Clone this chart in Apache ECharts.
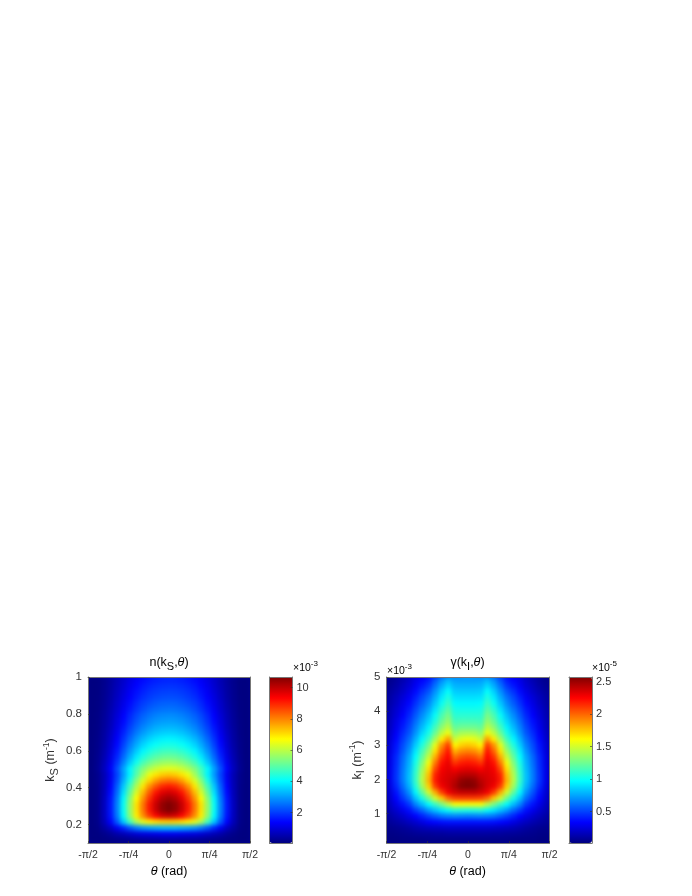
<!DOCTYPE html>
<html><head><meta charset="utf-8">
<style>html,body{margin:0;padding:0;background:#fff}#c{width:692px;height:896px}
canvas[data-zr-dom-id="zr_0"]{filter:blur(2.2px)}</style>
<script src="https://cdn.jsdelivr.net/npm/echarts@6/dist/echarts.min.js"></script>
</head><body><div id="c"></div>
<script>
// half-profile columns, theta = 0 .. 90 deg; the plots are mirror-symmetric about theta = 0
const thetaHalf = [0,7.5,15,22.5,30,37.5,45,52.5,60,67.5,75,82.5,90];
// n(kS,theta) x 1e-3, rows from kS = 1 (top) down to kS = 0.1
const nRows = [
[1.75,1.73,1.68,1.59,1.47,1.30,1.09,.84,.60,.37,.19,.07,.06],
[1.9,1.88,1.82,1.73,1.60,1.41,1.18,.91,.65,.40,.21,.08,.06],
[2.05,2.03,1.97,1.87,1.72,1.52,1.27,.98,.70,.43,.23,.08,.06],
[2.2,2.18,2.11,2.0,1.85,1.63,1.36,1.06,.75,.46,.24,.09,.06],
[2.4,2.38,2.3,2.18,2.02,1.78,1.49,1.15,.82,.50,.26,.10,.06],
[2.6,2.57,2.5,2.37,2.18,1.92,1.61,1.25,.88,.55,.29,.10,.06],
[2.85,2.82,2.74,2.59,2.39,2.11,1.77,1.37,.97,.60,.31,.11,.06],
[3.05,3.02,2.93,2.78,2.56,2.26,1.89,1.46,1.04,.64,.34,.12,.06],
[3.3,3.27,3.17,3.0,2.77,2.44,2.05,1.58,1.12,.69,.36,.13,.06],
[3.6,3.56,3.46,3.28,3.02,2.66,2.23,1.73,1.22,.76,.40,.14,.06],
[3.95,3.91,3.79,3.59,3.32,2.92,2.45,1.9,1.34,.83,.43,.16,.06],
[4.3,4.26,4.13,3.91,3.61,3.18,2.67,2.06,1.46,.9,.47,.17,.06],
[4.7,4.65,4.51,4.28,3.95,3.48,2.91,2.26,1.6,.99,.52,.19,.06],
[5.15,5.1,4.94,4.69,4.33,3.81,3.19,2.47,1.75,1.08,.57,.21,.06],
[5.7,5.64,5.47,5.19,4.79,4.22,3.53,2.74,1.94,1.2,.63,.23,.06],
[6.4,6.34,6.14,5.82,5.38,4.74,3.97,3.07,2.18,1.34,.7,.26,.06],
[7.3,7.2,6.95,6.5,5.75,4.9,3.95,3.0,2.05,1.2,.6,.2,.06],
[8.2,8.08,7.7,7.1,6.3,5.4,4.3,3.2,2.15,1.25,.6,.2,.06],
[9.1,8.95,8.5,7.85,6.95,5.85,4.75,3.5,2.35,1.35,.62,.18,.06],
[9.8,9.63,9.15,8.4,7.4,6.3,5.1,3.75,2.5,1.45,.65,.18,.06],
[10.3,10.1,9.6,8.8,7.8,6.7,5.45,4.0,2.65,1.55,.69,.18,.06],
[10.68,10.45,9.9,9.1,8.1,6.95,5.6,4.13,2.75,1.6,.71,.18,.06],
[10.68,10.45,9.9,9.1,8.1,6.95,5.6,4.13,2.75,1.6,.71,.18,.06],
[9.9,9.75,9.3,8.7,7.85,6.85,5.5,4.0,2.65,1.55,.7,.18,.06],
[7.2,7.15,7.0,6.8,6.4,5.75,4.7,3.45,2.3,1.35,.62,.16,.06],
[3.3,3.3,3.2,3.1,2.95,2.65,2.25,1.75,1.25,.75,.4,.12,.06],
[1.2,1.2,1.15,1.1,1.05,.95,.8,.65,.5,.32,.18,.08,.06],
[.35,.35,.33,.32,.3,.27,.23,.19,.15,.11,.08,.06,.06]
];
// gamma(kI,theta) x 1e-5, rows from kI = 5e-3 (top) down to kI = 0.14e-3
const gRows = [
[.72,.72,.73,.78,.68,.54,.40,.34,.28,.20,.14,.09,.05],
[.78,.78,.79,.88,.77,.62,.47,.39,.31,.23,.17,.11,.07],
[.84,.84,.85,.98,.86,.70,.55,.46,.36,.27,.20,.14,.09],
[.90,.90,.91,1.05,.93,.77,.62,.52,.41,.31,.24,.17,.11],
[.96,.96,.97,1.12,1.0,.84,.68,.57,.46,.35,.27,.19,.12],
[1.02,1.02,1.03,1.2,1.08,.91,.75,.63,.51,.39,.30,.22,.14],
[1.08,1.08,1.08,1.28,1.16,.99,.82,.69,.56,.43,.33,.24,.15],
[1.15,1.15,1.14,1.35,1.23,1.05,.88,.75,.61,.47,.37,.27,.17],
[1.25,1.25,1.22,1.45,1.33,1.14,.95,.81,.66,.51,.40,.29,.18],
[1.4,1.39,1.33,1.58,1.45,1.24,1.03,.88,.71,.55,.44,.32,.20],
[1.58,1.55,1.47,1.85,1.65,1.38,1.13,.96,.78,.60,.48,.35,.22],
[1.75,1.72,1.63,2.1,1.88,1.55,1.25,1.05,.85,.65,.52,.38,.24],
[1.92,1.89,1.8,2.2,2.0,1.68,1.36,1.14,.92,.70,.55,.40,.25],
[2.08,2.05,1.97,2.25,2.12,1.81,1.47,1.22,.98,.75,.59,.43,.27],
[2.2,2.18,2.12,2.3,2.21,1.95,1.58,1.3,1.03,.78,.61,.44,.27],
[2.32,2.3,2.26,2.32,2.27,2.07,1.68,1.37,1.07,.80,.63,.45,.28],
[2.43,2.42,2.36,2.34,2.3,2.17,1.76,1.42,1.1,.82,.64,.46,.28],
[2.55,2.52,2.42,2.36,2.32,2.19,1.8,1.44,1.11,.82,.64,.46,.28],
[2.57,2.55,2.45,2.35,2.28,2.1,1.72,1.38,1.06,.78,.60,.43,.26],
[2.4,2.4,2.36,2.28,2.1,1.82,1.5,1.22,.96,.70,.54,.38,.23],
[2.1,2.1,2.08,1.98,1.75,1.5,1.25,1.03,.83,.60,.47,.34,.21],
[1.6,1.6,1.6,1.45,1.28,1.12,.98,.82,.67,.48,.38,.28,.18],
[1.05,1.06,1.07,1.0,.92,.83,.73,.6,.49,.37,.29,.22,.15],
[.65,.66,.67,.66,.63,.57,.5,.42,.34,.27,.21,.16,.11],
[.38,.38,.38,.38,.37,.35,.32,.27,.22,.18,.14,.11,.08],
[.2,.2,.2,.2,.19,.18,.17,.15,.13,.10,.08,.06,.05],
[.1,.1,.1,.1,.09,.09,.08,.08,.07,.06,.05,.04,.03],
[.04,.04,.04,.04,.04,.04,.04,.03,.03,.03,.03,.02,.02]
];
const thetaTicks = [-90,-45,0,45,90];
const thetaLabels = ['-π/2','-π/4','0','π/4','π/2'];
const kSTicks = [0.2,0.4,0.6,0.8,1];
const kITicks = [1,2,3,4,5];
const kSRange = [0.1,1];
const kIRange = [0.14,5];
const nBarTicks = [2,4,6,8,10];
const gBarTicks = [0.5,1,1.5,2,2.5];
const nRange = [0.06,10.68];
const gRange = [0.018,2.57];
const jet = ['#000080','#0000ff','#0080ff','#00ffff','#80ff80','#ffff00','#ff8000','#ff0000','#800000'];

const FONT='"Liberation Sans",Arial,sans-serif', INK='#333333', EDGE='#777777';
const base={fontFamily:FONT,color:INK};
const rich={
  a:{...base,fontSize:12.5,lineHeight:18,verticalAlign:'middle'},
  i:{...base,fontSize:12.5,lineHeight:18,verticalAlign:'middle',fontStyle:'italic'},
  s:{...base,fontSize:11,lineHeight:10,verticalAlign:'bottom'},
  t:{...base,fontSize:8.5,lineHeight:8,verticalAlign:'top'}
};
const plots=[
 {l:88,w:162,b:269.5,rows:nRows,yr:kSRange,yt:kSTicks,cr:nRange,ct:nBarTicks,topTint:'#0038ff',
  yName:'{a|k}{s|S}{a| (m}{t|-1}{a|)}',yGap:28},
 {l:386.5,w:163,b:569,rows:gRows,yr:kIRange,yt:kITicks,cr:gRange,ct:gBarTicks,topTint:'#00a0ff',
  yName:'{a|k}{s|I}{a| (m}{t|-1}{a|)}',yGap:20}
];
const TOP=677,H=166,UP=1;
const thetaAll=[...thetaHalf.slice(1).reverse().map(v=>-v),...thetaHalf];
const full=r=>[...r.slice(1).reverse(),...r];
const line={show:true,onZero:false,lineStyle:{color:EDGE,width:1}};
const hide={axisTick:{show:false},axisLabel:{show:false},splitLine:{show:false}};
const grid=[],xAxis=[],yAxis=[],series=[],visualMap=[];
plots.forEach((p,i)=>{
  const g=grid.length;
  grid.push({left:p.l,top:TOP,width:p.w,height:H});
  // category axes place the cells and draw the top/right frame
  xAxis.push({gridIndex:g,type:'category',position:'top',data:thetaAll,zlevel:UP,z:10,axisLine:line,...hide});
  const kCats=p.rows.map((_,j)=>j);
  yAxis.push({gridIndex:g,type:'category',position:'right',inverse:true,data:kCats,zlevel:UP,z:10,axisLine:line,...hide});
  const xc=xAxis.length-1,yc=yAxis.length-1;
  // value axes carry the ticks and labels
  xAxis.push({gridIndex:g,type:'value',position:'bottom',min:-90,max:90,zlevel:UP,z:10,axisLine:line,
    axisTick:{show:true,inside:true,length:2,lineStyle:{color:INK,width:.6},customValues:thetaTicks},
    axisLabel:{show:true,margin:7,fontFamily:FONT,fontSize:10.5,color:INK,customValues:thetaTicks,
      formatter:v=>thetaLabels[thetaTicks.indexOf(v)]},splitLine:{show:false}});
  yAxis.push({gridIndex:g,type:'value',position:'left',min:p.yr[0],max:p.yr[1],zlevel:UP,z:10,axisLine:line,
    axisTick:{show:true,inside:true,length:2,lineStyle:{color:INK,width:.6},customValues:p.yt},
    axisLabel:{show:true,margin:6,fontFamily:FONT,fontSize:11.5,color:INK,customValues:p.yt},splitLine:{show:false},
    name:p.yName,nameLocation:'middle',nameGap:p.yGap,nameRotate:90,nameTextStyle:{rich}});
  const data=[];
  p.rows.forEach((r,j)=>full(r).forEach((v,k)=>data.push([k,j,v])));
  series.push({type:'heatmap',xAxisIndex:xc,yAxisIndex:yc,data,silent:true,progressive:0,itemStyle:{borderWidth:0}});
  visualMap.push({type:'continuous',seriesIndex:i,min:p.cr[0],max:p.cr[1],inRange:{color:jet},
    left:p.b,top:TOP,itemWidth:23,itemHeight:H,padding:0,calculable:false,showLabel:false,text:null,hoverLink:false,zlevel:UP,z:4});
});
plots.forEach(p=>{
  const g=grid.length;
  grid.push({left:p.b,top:TOP,width:23,height:H});
  const frame={zlevel:UP,z:10,axisLine:line,...hide};
  xAxis.push({gridIndex:g,type:'value',position:'top',min:0,max:1,...frame});
  xAxis.push({gridIndex:g,type:'value',position:'bottom',min:0,max:1,...frame});
  yAxis.push({gridIndex:g,type:'value',position:'left',min:p.cr[0],max:p.cr[1],...frame});
  yAxis.push({gridIndex:g,type:'value',position:'right',min:p.cr[0],max:p.cr[1],zlevel:UP,z:10,axisLine:line,
    axisTick:{show:true,inside:true,length:2,lineStyle:{color:INK,width:.6},customValues:p.ct},
    axisLabel:{show:true,margin:4,fontFamily:FONT,fontSize:11,color:INK,customValues:p.ct},splitLine:{show:false}});
});
const exp={
  e:{...base,fontSize:10.5,lineHeight:14,verticalAlign:'bottom'},
  f:{...base,fontSize:8,lineHeight:8,verticalAlign:'top'}
};
const etxt=(x,y,n)=>({type:'text',left:x,top:y,zlevel:UP,z:20,style:{text:`{e|×10}{f|-${n}}`,rich:exp}});
const centred=(cx,y,text)=>({type:'text',x:cx,y,zlevel:UP,z:20,style:{text,rich,align:'center',verticalAlign:'middle'}});
// backing under the softened cells and a white ring that trims the softening at the frame
const backing=p=>({type:'rect',z:0,silent:true,shape:{x:p.l-8,y:TOP-8,width:p.w+16,height:H+16},style:{fill:'#000090'}});
const topStrip=p=>({type:'rect',z:1,silent:true,shape:{x:p.l,y:TOP-8,width:p.w,height:9},style:{fill:{type:'linear',x:0,y:0,x2:1,y2:0,
  colorStops:[{offset:0,color:'#000090'},{offset:.25,color:'#0000e0'},{offset:.5,color:p.topTint},{offset:.75,color:'#0000e0'},{offset:1,color:'#000090'}]}}});
const ring=p=>({type:'rect',zlevel:UP,z:1,silent:true,shape:{x:p.l-9,y:TOP-9,width:p.w+18,height:H+18},style:{fill:'none',stroke:'#ffffff',lineWidth:18}});
const graphic=[
  ...plots.map(backing),...plots.map(topStrip),...plots.map(ring),
  centred(169,663,'{a|n(k}{s|S}{a|,}{i|θ}{a|)}'),
  centred(467.5,663,'{a|γ(k}{s|I}{a|,}{i|θ}{a|)}'),
  centred(169,871.5,'{i|θ}{a| (rad)}'),
  centred(467.5,871.5,'{i|θ}{a| (rad)}'),
  etxt(293,660,3),etxt(592,660,5),etxt(387,663,3)
];
const chart=echarts.init(document.getElementById('c'),null,{renderer:'canvas'});
chart.setOption({animation:false,backgroundColor:'#ffffff',grid,xAxis,yAxis,visualMap,series,graphic});
</script></body></html>
